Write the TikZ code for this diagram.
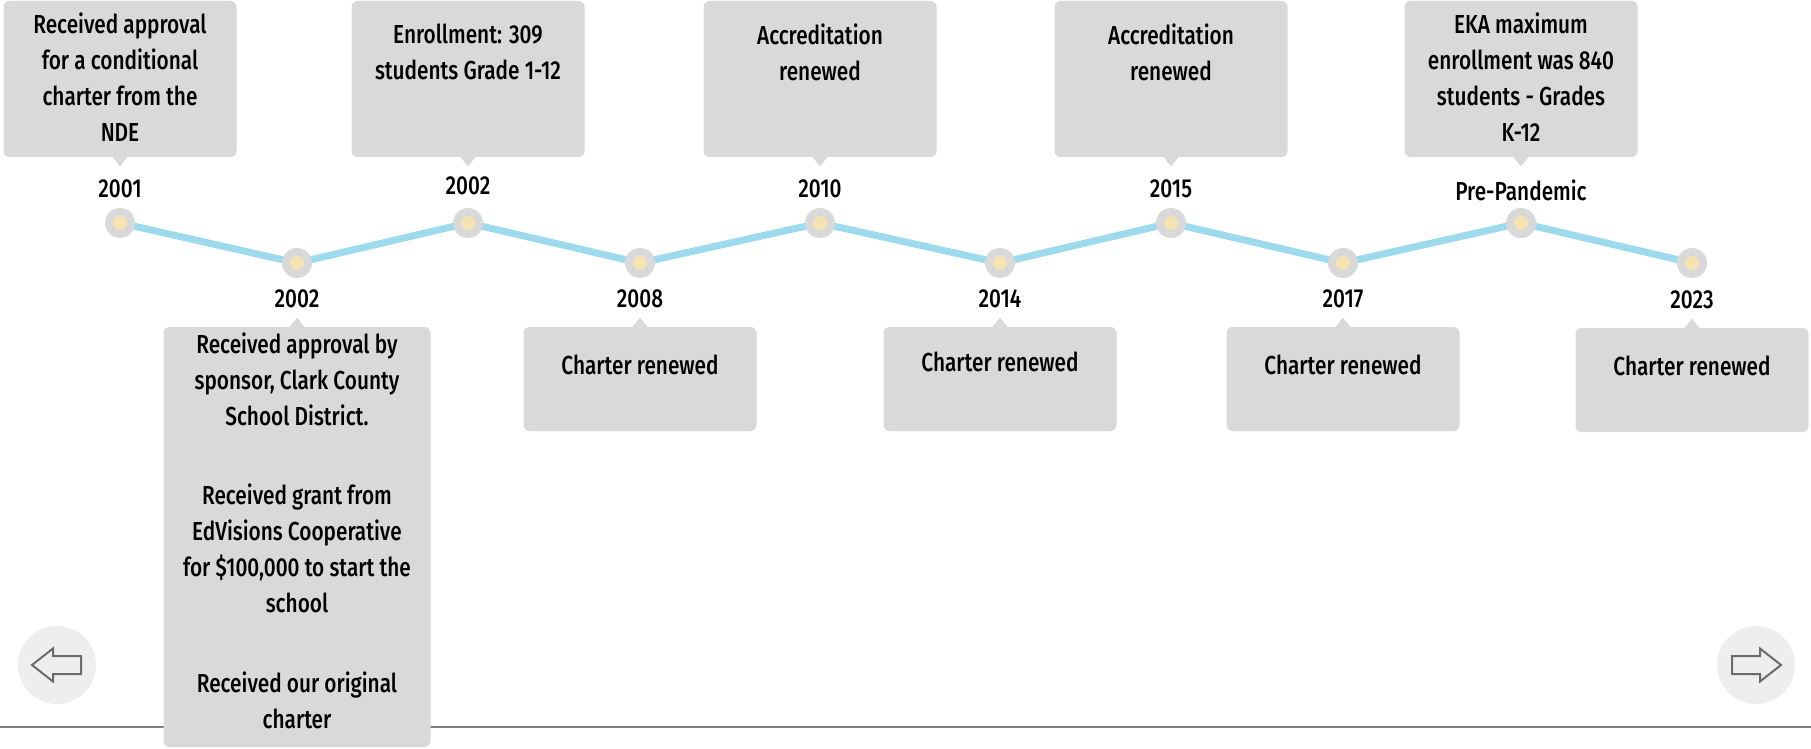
\documentclass[tikz,border=0pt]{standalone}
\usepackage{fontspec}
\setmainfont{Fira Sans}[FakeStretch=0.8, UprightFont={* Medium}]
\usetikzlibrary{backgrounds}
\definecolor{cardgray}{HTML}{D9D9D9}
\definecolor{dotcream}{HTML}{F6E3B4}
\definecolor{trailblue}{HTML}{9EDAEE}
\definecolor{navgray}{HTML}{EEEEEE}
\definecolor{arrowgray}{HTML}{6B6B6B}
\definecolor{rulegray}{HTML}{7F7F7F}

\tikzset{
  card/.style={fill=cardgray, rounded corners=3pt, minimum width=116.5pt, inner sep=0pt},
  cardtext/.style={align=center, anchor=north, inner sep=0pt, execute at begin node={\rule{0pt}{10pt}}},
  yeartext/.style={anchor=base, inner sep=0pt},
  dotring/.style={circle, fill=cardgray, minimum size=15pt, inner sep=0pt},
  dotcore/.style={circle, fill=dotcream, minimum size=7pt, inner sep=0pt},
  trail/.style={trailblue, line width=3.5pt},
  navbtn/.style={circle, fill=navgray, minimum size=39pt, inner sep=0pt},
  navarrow/.style={draw=arrowgray, fill=navgray, line width=1pt, line join=miter}
}

\begin{document}
\begin{tikzpicture}[x=0.5pt, y=-0.5pt, font=\fontsize{13}{18}\selectfont]
			\useasboundingbox (0,0) rectangle (1811,749);
			
			%%%%% bottom rule %%%%%
			\draw[rulegray, line width=1pt] (0,727) -- (1811,727);
			
			%%%%% dots %%%%%
			\node[dotring] (d1) at (120,223) {};
			\node[dotring] (d2) at (297,263) {};
			\node[dotring] (d3) at (468,223) {};
			\node[dotring] (d4) at (640,263) {};
			\node[dotring] (d5) at (820,223) {};
			\node[dotring] (d6) at (1000,263) {};
			\node[dotring] (d7) at (1171,223) {};
			\node[dotring] (d8) at (1343,263) {};
			\node[dotring] (d9) at (1521,223) {};
			\node[dotring] (d10) at (1692,263) {};
			\foreach \i in {1,...,10}
				\node[dotcore] at (d\i) {};
			
			\begin{scope}[on background layer]
				\draw[trail] (d1.center) -- (d2.center) -- (d3.center) -- (d4.center) -- (d5.center)
					-- (d6.center) -- (d7.center) -- (d8.center) -- (d9.center) -- (d10.center);
			\end{scope}
			
			%%%%% years %%%%%
			\node[yeartext] (y1) at (120,198) {2001};
			\node[yeartext] (y2) at (297,307) {2002};
			\node[yeartext] (y3) at (468,194) {2002};
			\node[yeartext] (y4) at (640,307) {2008};
			\node[yeartext] (y5) at (820,198) {2010};
			\node[yeartext] (y6) at (1000,307) {2014};
			\node[yeartext] (y7) at (1171,198) {2015};
			\node[yeartext] (y8) at (1343,307) {2017};
			\node[yeartext] (y9) at (1521,200) {Pre-Pandemic};
			\node[yeartext] (y10) at (1692,308) {2023};
			
			%%%%% upper cards %%%%%
			\node[card, minimum height=78pt] (c1) at (120,79) {};
			\fill[cardgray] (c1.south) ++(-8,-1) -- ++(16,0) -- ++(-8,10) -- cycle;
			\node[cardtext] (t1) at (120,12) {Received approval\\for a conditional\\charter from the\\NDE};
			
			\node[card, minimum height=78pt] (c3) at (468,79) {};
			\fill[cardgray] (c3.south) ++(-8,-1) -- ++(16,0) -- ++(-8,10) -- cycle;
			\node[cardtext] (t3) at (468,23) {Enrollment: 309\\students Grade 1-12};
			
			\node[card, minimum height=78pt] (c5) at (820,79) {};
			\fill[cardgray] (c5.south) ++(-8,-1) -- ++(16,0) -- ++(-8,10) -- cycle;
			\node[cardtext] (t5) at (820,23) {Accreditation\\renewed};
			
			\node[card, minimum height=78pt] (c7) at (1171,79) {};
			\fill[cardgray] (c7.south) ++(-8,-1) -- ++(16,0) -- ++(-8,10) -- cycle;
			\node[cardtext] (t7) at (1171,23) {Accreditation\\renewed};
			
			\node[card, minimum height=78pt] (c9) at (1521,79) {};
			\fill[cardgray] (c9.south) ++(-8,-1) -- ++(16,0) -- ++(-8,10) -- cycle;
			\node[cardtext] (t9) at (1521,12) {EKA maximum\\enrollment was 840\\students - Grades\\K-12};
			
			%%%%% lower cards %%%%%
			\node[card, minimum width=133.5pt, minimum height=210pt] (c2) at (297,537) {};
			\fill[cardgray] (c2.north) ++(-8,1) -- ++(16,0) -- ++(-8,-10) -- cycle;
			\node[cardtext] (t2) at (297,332) {Received approval by\\sponsor, Clark County\\School District.\\[21.5pt]
				Received grant from\\EdVisions Cooperative\\for \$100,000 to start the\\school\\[22pt]
				Received our original\\charter};
			
			\node[card, minimum height=52pt] (c4) at (640,379) {};
			\fill[cardgray] (c4.north) ++(-8,1) -- ++(16,0) -- ++(-8,-10) -- cycle;
			\node[cardtext] (t4) at (640,354) {Charter renewed};
			
			\node[card, minimum height=52pt] (c6) at (1000,379) {};
			\fill[cardgray] (c6.north) ++(-8,1) -- ++(16,0) -- ++(-8,-10) -- cycle;
			\node[cardtext] (t6) at (1000,351) {Charter renewed};
			
			\node[card, minimum height=52pt] (c8) at (1343,379) {};
			\fill[cardgray] (c8.north) ++(-8,1) -- ++(16,0) -- ++(-8,-10) -- cycle;
			\node[cardtext] (t8) at (1343,354) {Charter renewed};
			
			\node[card, minimum height=52pt] (c10) at (1692,380) {};
			\fill[cardgray] (c10.north) ++(-8,1) -- ++(16,0) -- ++(-8,-10) -- cycle;
			\node[cardtext] (t10) at (1692,355) {Charter renewed};
			
			%%%%% nav buttons %%%%%
			\node[navbtn] (prev) at (57,665) {};
			\draw[navarrow] (prev.center) ++(24,-9) -- ++(-28,0) -- ++(0,-7.5) -- ++(-21,16.5)
				-- ++(21,16.5) -- ++(0,-7.5) -- ++(28,0) -- cycle;
			
			\node[navbtn] (next) at (1756,665) {};
			\draw[navarrow] (next.center) ++(-24,-9) -- ++(28,0) -- ++(0,-7.5) -- ++(21,16.5)
				-- ++(-21,16.5) -- ++(0,-7.5) -- ++(-28,0) -- cycle;
			
			%%%%% END %%%%%
\end{tikzpicture}
\end{document}
